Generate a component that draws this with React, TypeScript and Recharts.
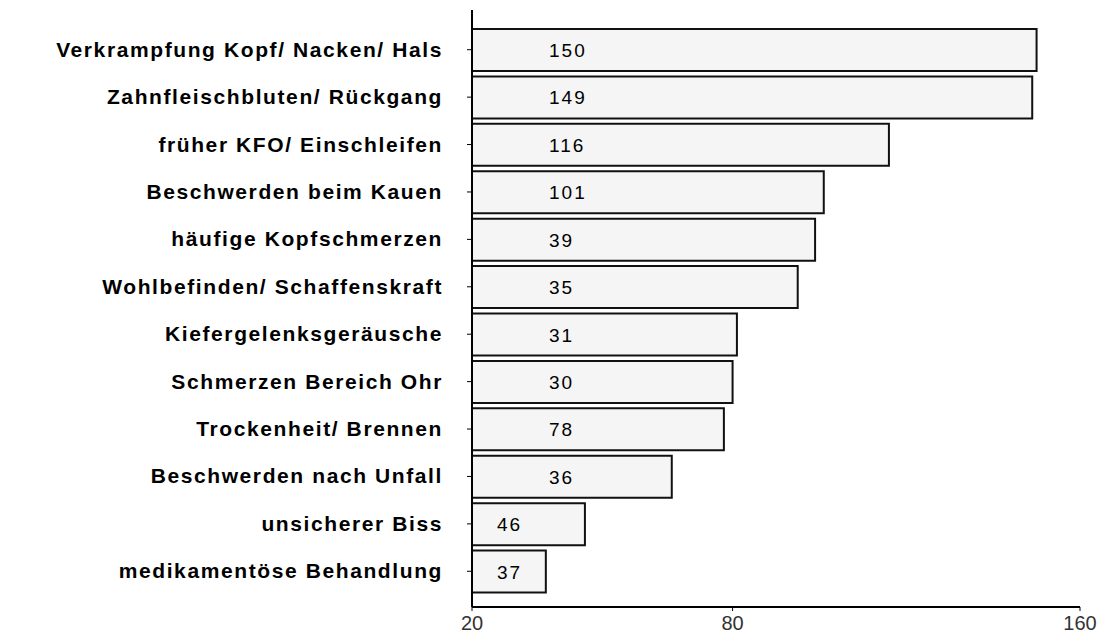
import React from 'react';
import { BarChart, Bar, XAxis, YAxis, LabelList } from 'recharts';

const categories = [
  'Verkrampfung Kopf/ Nacken/ Hals',
  'Zahnfleischbluten/ Rückgang',
  'früher KFO/ Einschleifen',
  'Beschwerden beim Kauen',
  'häufige Kopfschmerzen',
  'Wohlbefinden/ Schaffenskraft',
  'Kiefergelenksgeräusche',
  'Schmerzen Bereich Ohr',
  'Trockenheit/ Brennen',
  'Beschwerden nach Unfall',
  'unsicherer Biss',
  'medikamentöse Behandlung',
];
const values = [150, 149, 116, 101, 99, 95, 81, 80, 78, 66, 46, 37];
const valueLabels = ['150', '149', '116', '101', '39', '35', '31', '30', '78', '36', '46', '37'];
const xTicks = [20, 80, 160];

const data = categories.map((c, i) => ({ name: c, value: values[i], label: valueLabels[i] }));

const YTick = (props: any) => {
  const { x, y, payload } = props;
  return (
    <text x={x} y={y} dy={7} textAnchor="end" fontFamily="'Liberation Sans', Arial, sans-serif" fontWeight="bold" fontSize={21} letterSpacing={1.6} fill="#000">
      {payload.value}
    </text>
  );
};

const XTick = (props: any) => {
  const { x, y, payload } = props;
  return (
    <text x={x} y={y} dy={17} textAnchor="middle" fontFamily="'Liberation Sans', Arial, sans-serif" fontSize={20} fill="#333">
      {payload.value}
    </text>
  );
};

const ValueLabel = (props: any) => {
  const { x, y, width, height, value } = props;
  const tx = width > 150 ? x + 77 : x + 25;
  return (
    <text x={tx} y={y + height / 2} dy={7} textAnchor="start" fontFamily="'Liberation Sans', Arial, sans-serif" fontSize={19} letterSpacing={2} fill="#000">
      {value}
    </text>
  );
};

export default function App() {
  return (
    <BarChart
      width={1093}
      height={629}
      data={data}
      layout="vertical"
      margin={{ top: 2, right: 21, left: 0, bottom: 0 }}
      barSize={42}
    >
      <XAxis
        type="number"
        domain={[20, 160]}
        ticks={xTicks}
        allowDataOverflow
        height={30}
        axisLine={{ stroke: '#000', strokeWidth: 2 }}
        tickLine={{ stroke: '#000' }}
        tickSize={4}
        tick={<XTick />}
      />
      <YAxis
        type="category"
        dataKey="name"
        width={464}
        padding={{ top: 16, bottom: 12 }}
        axisLine={{ stroke: '#000', strokeWidth: 2 }}
        tickLine={{ stroke: '#000' }}
        tickSize={5}
        tickMargin={24}
        tick={<YTick />}
        interval={0}
      />
      <Bar dataKey="value" fill="#f4f5f4" stroke="#111" strokeWidth={2} isAnimationActive={false}>
        <LabelList dataKey="label" content={<ValueLabel />} />
      </Bar>
    </BarChart>
  );
}
